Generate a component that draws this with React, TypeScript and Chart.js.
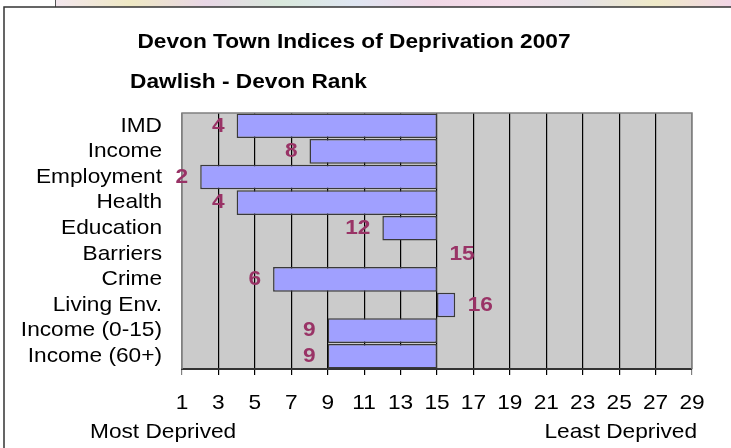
import React, { useEffect, useRef } from "react";
import { Chart, registerables } from "chart.js";

Chart.register(...registerables);

const categories = [
  "IMD",
  "Income",
  "Employment",
  "Health",
  "Education",
  "Barriers",
  "Crime",
  "Living Env.",
  "Income (0-15)",
  "Income (60+)",
];
const ranks = [4, 8, 2, 4, 12, 15, 6, 16, 9, 9];
const baseRank = 15;
const axisMin = 1;
const axisMax = 29;
const axisStep = 2;
const titleText = "Devon Town Indices of Deprivation 2007";
const subtitleText = "Dawlish - Devon Rank";
const leftAxisNote = "Most Deprived";
const rightAxisNote = "Least Deprived";

const FONT = '"Liberation Sans", Arial, sans-serif';
const SX = 1.08;

function drawText(
  ctx: CanvasRenderingContext2D,
  text: string,
  x: number,
  y: number,
  align: "left" | "right" | "center",
  font: string,
  color: string
) {
  ctx.save();
  ctx.font = font;
  ctx.fillStyle = color;
  ctx.textBaseline = "middle";
  ctx.textAlign = "left";
  const w = ctx.measureText(text).width * SX;
  const left = align === "left" ? x : align === "right" ? x - w : x - w / 2;
  ctx.translate(left, y);
  ctx.scale(SX, 1);
  ctx.fillText(text, 0, 0);
  ctx.restore();
}

const decorPlugin = {
  id: "decor",
  beforeDraw(chart: any) {
    const ctx: CanvasRenderingContext2D = chart.ctx;
    const { width, height, chartArea } = chart;
    ctx.save();
    ctx.fillStyle = "#ffffff";
    ctx.fillRect(0, 0, width, height);
    // faint decorative strip at the top
    const g = ctx.createLinearGradient(55, 0, width, 0);
    const stops = ["#f3e6ee", "#efe9c4", "#e9d7e6", "#d9e9dc", "#dfe6f2", "#f1d8e6", "#f4dde9", "#e6e2e6", "#efeac8", "#f2d6e6"];
    stops.forEach((c, i) => g.addColorStop(i / (stops.length - 1), c));
    ctx.fillStyle = g;
    ctx.fillRect(55, 0, width - 55, 7);
    ctx.strokeStyle = "#555";
    ctx.lineWidth = 1;
    ctx.beginPath();
    ctx.moveTo(55.5, 0);
    ctx.lineTo(55.5, 7);
    ctx.stroke();
    // frame
    ctx.strokeStyle = "#333";
    ctx.lineWidth = 1.5;
    ctx.beginPath();
    ctx.moveTo(4, height);
    ctx.lineTo(4, 7);
    ctx.lineTo(width, 7);
    ctx.stroke();
    // plot area background
    ctx.fillStyle = "#cbcbcb";
    ctx.fillRect(chartArea.left, chartArea.top, chartArea.right - chartArea.left, chartArea.bottom - chartArea.top);
    ctx.restore();
  },
  afterDraw(chart: any) {
    const ctx: CanvasRenderingContext2D = chart.ctx;
    const { chartArea, width } = chart;
    const xs = chart.scales.x;
    const ys = chart.scales.y;
    ctx.save();
    // plot border (top, left, right)
    ctx.strokeStyle = "#808080";
    ctx.lineWidth = 1.5;
    ctx.beginPath();
    ctx.moveTo(chartArea.left, chartArea.bottom);
    ctx.lineTo(chartArea.left, chartArea.top);
    ctx.lineTo(chartArea.right, chartArea.top);
    ctx.lineTo(chartArea.right, chartArea.bottom);
    ctx.stroke();
    ctx.restore();

    // titles
    drawText(ctx, titleText, 354, 42, "center", `bold 21px ${FONT}`, "#000");
    drawText(ctx, subtitleText, 130, 82, "left", `bold 21px ${FONT}`, "#000");

    // category labels
    categories.forEach((c, i) => {
      const y = ys.getPixelForValue(i);
      drawText(ctx, c, 162, y, "right", `21px ${FONT}`, "#000");
    });

    // x tick labels
    for (let v = axisMin; v <= axisMax; v += axisStep) {
      drawText(ctx, String(v), xs.getPixelForValue(v), 403, "center", `21px ${FONT}`, "#000");
    }

    // axis notes
    drawText(ctx, leftAxisNote, 90, 432, "left", `21px ${FONT}`, "#000");
    drawText(ctx, rightAxisNote, 697, 432, "right", `21px ${FONT}`, "#000");

    // value labels
    ranks.forEach((r, i) => {
      const y = ys.getPixelForValue(i);
      const x = xs.getPixelForValue(r);
      if (r < baseRank) {
        drawText(ctx, String(r), x - 12, y, "right", `bold 21px ${FONT}`, "#993366");
      } else {
        drawText(ctx, String(r), x + 12.5, y, "left", `bold 21px ${FONT}`, "#993366");
      }
    });
  },
};

export default function App() {
  const ref = useRef<HTMLCanvasElement | null>(null);
  useEffect(() => {
    if (!ref.current) return;
    const chart = new Chart(ref.current, {
      type: "bar",
      data: {
        labels: categories,
        datasets: [
          {
            data: ranks.map((r) => [r, baseRank]) as any,
            backgroundColor: "#a0a0ff",
            borderColor: "#3a3a3a",
            borderWidth: 1.5,
            borderSkipped: false,
            barPercentage: 0.96,
            categoryPercentage: 1,
          },
        ],
      },
      options: {
        indexAxis: "y",
        responsive: false,
        animation: false,
        devicePixelRatio: 1,
        layout: { padding: { left: 0, top: 113, right: 39, bottom: 0 } },
        plugins: {
          legend: { display: false },
          tooltip: { enabled: false },
          title: { display: false },
        },
        scales: {
          x: {
            type: "linear",
            min: axisMin,
            max: axisMax,
            ticks: { stepSize: axisStep, display: false },
            grid: {
              color: (c: any) =>
                c.tick && (c.tick.value === axisMin || c.tick.value === axisMax) ? "#808080" : "#000000",
              lineWidth: 1.2,
              tickLength: 6,
              drawTicks: true,
            },
            border: { display: true, color: "#333333", width: 2 },
            afterFit: (s: any) => {
              s.height = 79;
            },
          },
          y: {
            type: "category",
            ticks: { display: false },
            grid: { display: false },
            border: { display: false },
            afterFit: (s: any) => {
              s.width = 182;
            },
          },
        },
      },
      plugins: [decorPlugin],
    });
    return () => chart.destroy();
  }, []);
  return (
    <div style={{ position: "fixed", left: 0, top: 0, width: 731, height: 448, background: "#fff" }}>
      <canvas ref={ref} width={731} height={448} style={{ display: "block" }} />
    </div>
  );
}
